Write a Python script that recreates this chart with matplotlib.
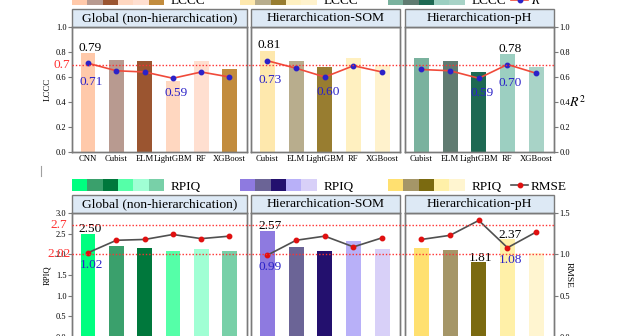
import matplotlib
matplotlib.use("Agg")
import matplotlib.pyplot as plt
from matplotlib.patches import Rectangle, Patch
from matplotlib.lines import Line2D
from matplotlib.legend_handler import HandlerTuple
from matplotlib.transforms import blended_transform_factory

plt.rcParams['font.family'] = ['Liberation Serif', 'DejaVu Serif']
plt.rcParams['mathtext.fontset'] = 'stix'

# ---------------- data ----------------
group_titles = ["Global (non-hierarchication)", "Hierarchication-SOM", "Hierarchication-pH"]
models_global = ["CNN", "Cubist", "ELM", "LightGBM", "RF", "XGBoost"]
models_som = ["Cubist", "ELM", "LightGBM", "RF", "XGBoost"]
models_ph = ["Cubist", "ELM", "LightGBM", "RF", "XGBoost"]

lccc_global = [0.79, 0.74, 0.73, 0.57, 0.73, 0.66]
lccc_som = [0.81, 0.73, 0.68, 0.75, 0.70]
lccc_ph = [0.75, 0.73, 0.64, 0.78, 0.68]

r2_global = [0.71, 0.65, 0.64, 0.59, 0.64, 0.60]
r2_som = [0.73, 0.67, 0.60, 0.69, 0.64]
r2_ph = [0.66, 0.65, 0.59, 0.70, 0.63]

rpiq_global = [2.50, 2.19, 2.15, 2.08, 2.14, 2.09]
rpiq_som = [2.57, 2.17, 2.09, 2.33, 2.12]
rpiq_ph = [2.16, 2.11, 1.81, 2.37, 2.03]

rmse_global = [1.02, 1.17, 1.18, 1.24, 1.19, 1.22]
rmse_som = [0.99, 1.17, 1.22, 1.09, 1.20]
rmse_ph = [1.18, 1.23, 1.41, 1.08, 1.27]

# reference levels
lccc_ref = [0.7]
rpiq_ref = [2.7, 2.02]

# which bars / points carry a value label
top_bar_labels = [[0], [0], [3]]
top_line_labels = [[0, 3], [0, 2], [3, 2]]
bot_bar_labels = [[0], [0], [3, 2]]
bot_line_labels = [[0], [0], [3]]

# ---------------- colours ----------------
top_colors = [
    ["#FFC9AA", "#B89A90", "#9B5530", "#FFD7C0", "#FFDFD0", "#C28C3E"],
    ["#FEE8AD", "#B8AD8D", "#987D30", "#FFF0C0", "#FFF2CC"],
    ["#7AB29E", "#607B71", "#1E6953", "#9CCFC1", "#A8D3C7"],
]
bot_colors = [
    ["#00FF80", "#3AA06C", "#00783C", "#55FFA8", "#A0FFD4", "#78D0A8"],
    ["#8E7AE0", "#6B6496", "#23106E", "#B8B0F8", "#D8D0F8"],
    ["#FFE070", "#A59668", "#7B6A10", "#FFF0A8", "#FFF5D0"],
]

W, H, DPI = 624, 336, 100
fig = plt.figure(figsize=(W / DPI, H / DPI), dpi=DPI)
fig.patch.set_facecolor("white")

xspans = [(72, 247), (251, 400), (405, 554)]
top_y = (27, 152)
bot_y = (213, 337)

SPINE = "#7a7a7a"
RED = "#ff3030"
BLUE = "#2b22c8"
TITLE_FC = "#dde9f5"


def make_ax(xs, ys):
    x0, x1 = xs
    y0, y1 = ys
    return fig.add_axes([x0 / W, 1 - y1 / H, (x1 - x0) / W, (y1 - y0) / H])


def style(ax):
    for s in ax.spines.values():
        s.set_color(SPINE)
        s.set_linewidth(1.0)


def title_box(ax, text, h):
    ax.add_patch(Rectangle((0, 1), 1, h, transform=ax.transAxes, clip_on=False,
                           facecolor=TITLE_FC, edgecolor=SPINE, lw=1.0, zorder=5))
    ax.text(0.5, 1 + h / 2, text, transform=ax.transAxes, ha="center", va="center",
            fontsize=9.7, zorder=6)


def add_legend(handle, label, x_px, y_px, hl_px, hpad_px, fs=9.5):
    fs_px = fs * DPI / 72
    fig.legend(handles=[handle], labels=[label],
               handler_map={tuple: HandlerTuple(ndivide=None, pad=0)},
               loc="center left", bbox_to_anchor=(x_px / W, 1 - y_px / H),
               frameon=False, borderpad=0, borderaxespad=0,
               handlelength=hl_px / fs_px, handleheight=12 / fs_px,
               handletextpad=hpad_px / fs_px, fontsize=fs)


def ref_lines(ax, levels, label_x):
    tr = blended_transform_factory(fig.transFigure, ax.transData)
    trl = blended_transform_factory(ax.transAxes, ax.transData)
    for lv in levels:
        fig.add_artist(Line2D([72 / W, 554 / W], [lv, lv], transform=tr, color=RED,
                              lw=1.0, ls=(0, (1, 1.4)), zorder=4))
        ax.text(label_x, lv, f"{lv:g}", transform=trl, ha="center", va="center",
                color=RED, fontsize=9.6, zorder=7)


models_all = [models_global, models_som, models_ph]
lccc_all = [lccc_global, lccc_som, lccc_ph]
r2_all = [r2_global, r2_som, r2_ph]
rpiq_all = [rpiq_global, rpiq_som, rpiq_ph]
rmse_all = [rmse_global, rmse_som, rmse_ph]

legend_x = [72, 240, 388]

for row in range(2):
    for i in range(3):
        ys = top_y if row == 0 else bot_y
        ax = make_ax(xspans[i], ys)
        style(ax)
        models = models_all[i]
        n = len(models)
        x = list(range(n))
        if row == 0:
            bars, line, cols = lccc_all[i], r2_all[i], top_colors[i]
            ylim, ylim2 = (0, 1.0), (0, 1.0)
            bar_lab, line_lab = top_bar_labels[i], top_line_labels[i]
            lcol, mcol = "#f04a3a", BLUE
            line_off = {min(range(n), key=lambda k: line[k]): -18}
            line_default = -22
        else:
            bars, line, cols = rpiq_all[i], rmse_all[i], bot_colors[i]
            ylim, ylim2 = (0, 3.0), (0, 1.5)
            bar_lab, line_lab = bot_bar_labels[i], bot_line_labels[i]
            lcol, mcol = "#505050", "#e01010"
            line_off = {}
            line_default = -15

        ax.bar(x, bars, width=0.52, color=cols, edgecolor="none", zorder=2)
        ax.set_xlim(-0.57, n - 1 + 0.62)
        ax.set_ylim(*ylim)
        ax.set_xticks(x)
        if row == 0:
            ax.set_xticklabels(models, fontsize=6.2)
        else:
            # lower row's model names fall below the figure edge
            ax.set_xticklabels([])
        ax.tick_params(axis="x", length=0, pad=2)

        ax2 = ax.twinx()
        style(ax2)
        ax2.plot(x, line, color=lcol, lw=1.2, marker="o", ms=3.2,
                 mfc=mcol, mec=mcol, zorder=3)
        ax2.set_ylim(*ylim2)

        # value labels
        for k in bar_lab:
            ax.annotate(f"{bars[k]:.2f}", (x[k], bars[k]), xytext=(2.2, 1.5 if row else 2.5),
                        textcoords="offset pixels", ha="center", va="baseline",
                        fontsize=9.6, color="black", zorder=6)
        for k in line_lab:
            dy = line_off.get(k, line_default)
            ax2.annotate(f"{line[k]:.2f}", (x[k], line[k]), xytext=(3, dy),
                         textcoords="offset pixels", ha="center", va="baseline",
                         fontsize=9.6, color=BLUE, zorder=6)

        # y axes
        if i == 0:
            ax.tick_params(axis="y", direction="out", length=3, width=0.8, color=SPINE,
                           labelsize=6, pad=1)
            if row == 0:
                ax.set_yticks([0, 0.2, 0.4, 0.6, 0.8, 1.0])
                ax.set_ylabel("LCCC", fontsize=6.4)
            else:
                ax.set_yticks([0, 0.5, 1.0, 1.5, 2.0, 2.5, 3.0])
                ax.set_ylabel("RPIQ", fontsize=6.2)
            ax.yaxis.set_major_formatter(matplotlib.ticker.FormatStrFormatter("%.1f"))
            ax.yaxis.set_label_coords(-0.117, 0.5)
        else:
            ax.tick_params(axis="y", left=False, labelleft=False)
        if i == 2:
            ax2.tick_params(axis="y", direction="out", length=3, width=0.8, color=SPINE,
                            labelsize=6, pad=1)
            if row == 0:
                ax2.set_yticks([0, 0.2, 0.4, 0.6, 0.8, 1.0])
                ax2.set_ylabel(r"$R^2$", fontsize=10, rotation=0, ha="left", va="center")
                ax2.yaxis.set_label_coords(1.10, 0.4)
            else:
                ax2.set_yticks([0, 0.5, 1.0, 1.5])
                ax2.set_ylabel("RMSE", fontsize=6.8, rotation=270, va="center")
                ax2.yaxis.set_label_coords(1.10, 0.5)
            ax2.yaxis.set_major_formatter(matplotlib.ticker.FormatStrFormatter("%.1f"))
        else:
            ax2.tick_params(axis="y", right=False, labelright=False)

        title_box(ax, group_titles[i], 18 / (ys[1] - ys[0]))

        if i == 0:
            if row == 0:
                ref_lines(ax, lccc_ref, -0.06)
            else:
                ref_lines(ax, rpiq_ref, -0.073)

        # legends
        ly = 0.7 if row == 0 else 186
        patches = tuple(Patch(facecolor=c, edgecolor="none", lw=0) for c in cols)
        add_legend(patches, "LCCC" if row == 0 else "RPIQ", legend_x[i], ly,
                   15.3 * n, 7)
        if i == 2:
            h = Line2D([], [], color=lcol, lw=1.2, marker="o", ms=3.2, mfc=mcol, mec=mcol)
            add_legend(h, r"$R^2$" if row == 0 else "RMSE", 511, ly, 17, 3)

fig.add_artist(Line2D([41 / W, 41 / W], [1 - 166 / H, 1 - 176 / H], color="#a0a0a0", lw=0.8))

fig.savefig("out.png", dpi=DPI)
